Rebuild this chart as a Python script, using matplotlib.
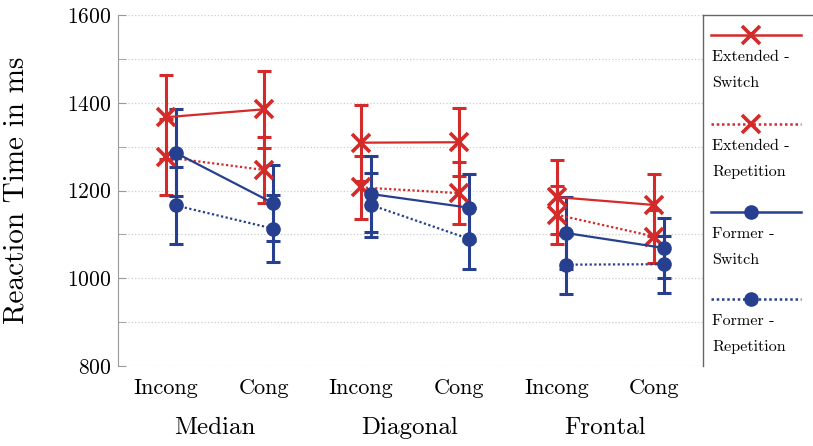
import matplotlib
matplotlib.use("Agg")
import matplotlib.pyplot as plt
import numpy as np

plt.rcParams['font.family'] = ['cmr10', 'DejaVu Serif']
plt.rcParams['axes.formatter.use_mathtext'] = True
plt.rcParams['mathtext.fontset'] = 'cm'

groups = ["Median", "Diagonal", "Frontal"]
conditions = ["Incong", "Cong"]

ext_switch = [1367, 1385, 1309, 1310, 1185, 1167]
ext_switch_err = [96, 88, 87, 77, 84, 70]
ext_rep = [1276, 1247, 1207, 1194, 1145, 1095]
ext_rep_err = [86, 76, 71, 70, 66, 60]
for_switch = [1286, 1171, 1192, 1161, 1103, 1069]
for_switch_err = [99, 87, 87, 76, 82, 69]
for_rep = [1166, 1113, 1167, 1090, 1031, 1032]
for_rep_err = [88, 77, 73, 69, 67, 65]

legend_labels = ["Extended -\nSwitch", "Extended -\nRepetition",
                 "Former -\nSwitch", "Former -\nRepetition"]

RED = '#d42a2a'
BLUE = '#263f8e'
DOT = (0, (1, 1.1))

W, H = 813, 446
fig = plt.figure(figsize=(W / 100, H / 100), dpi=100)
left, right, top, bottom = 118, 703, 15, 366
ax = fig.add_axes([left / W, 1 - bottom / H, (right - left) / W, (bottom - top) / H])

series = [
    (ext_switch, ext_switch_err, RED, '-', 'x', 0.0),
    (ext_rep, ext_rep_err, RED, DOT, 'x', 0.0),
    (for_switch, for_switch_err, BLUE, '-', 'o', 0.1),
    (for_rep, for_rep_err, BLUE, DOT, 'o', 0.1),
]

for vals, errs, col, ls, mk, off in series:
    vals = np.array(vals); errs = np.array(errs)
    x = np.arange(len(vals)) + off
    ax.errorbar(x, vals, yerr=errs, fmt='none', ecolor=col, elinewidth=2.2,
                capsize=5, capthick=2.2, zorder=2)
    for g in range(len(groups)):
        sl = slice(2 * g, 2 * g + 2)
        if mk == 'x':
            ax.plot(x[sl], vals[sl], color=col, linestyle=ls, lw=1.6,
                    marker='x', ms=13, mew=2.6, zorder=3)
        else:
            ax.plot(x[sl], vals[sl], color=col, linestyle=ls, lw=1.6,
                    marker='o', ms=9.5, zorder=4)

ax.set_xlim(-0.49, 5.5)
ax.set_ylim(800, 1600)
ax.set_yticks(np.arange(800, 1601, 200))
ax.set_yticks(np.arange(800, 1601, 100), minor=True)
ax.tick_params(axis='y', which='both', direction='in', length=6, color='#999999',
               labelsize=15.5, pad=5)
ax.yaxis.grid(True, which='both', linestyle=':', color='#cccccc', lw=0.9)
ax.set_axisbelow(True)
ax.set_xticks(np.arange(6))
ax.set_xticklabels(conditions * len(groups), fontsize=16)
ax.tick_params(axis='x', length=0, pad=9)
for s in ['top', 'right', 'bottom']:
    ax.spines[s].set_visible(False)
ax.spines['left'].set_color('#999999')

fig.text(16 / W, 1 - 190 / H, "Reaction Time in ms", rotation=90,
         ha='center', va='center', fontsize=21)

for g, name in enumerate(groups):
    ax.text(2 * g + 0.5, -(428 - bottom) / (bottom - top), name,
            transform=ax.get_xaxis_transform(),
            ha='center', va='center', fontsize=18)

# legend panel
lax = fig.add_axes([right / W, 1 - bottom / H, (W - right) / W + 0.01, (bottom - top) / H])
lax.set_xlim(right, W + 8)
lax.set_ylim(bottom, top)
lax.set_xticks([]); lax.set_yticks([])
for s in ['right', 'bottom']:
    lax.spines[s].set_visible(False)
for s in ['left', 'top']:
    lax.spines[s].set_color('#666666')
    lax.spines[s].set_linewidth(1.0)

ys = [35, 124, 212, 299]
styles = [(RED, '-', 'x'), (RED, DOT, 'x'), (BLUE, '-', 'o'), (BLUE, DOT, 'o')]
for y0, (col, ls, mk), lab in zip(ys, styles, legend_labels):
    lax.plot([711, 801], [y0, y0], color=col, linestyle=ls, lw=1.8)
    if mk == 'x':
        lax.plot([751], [y0], marker='x', ms=13, mew=2.6, color=col)
    else:
        lax.plot([751], [y0], marker='o', ms=9.5, color=col)
    l1, l2 = lab.split("\n")
    lax.text(712, y0 + 22, l1, fontsize=11.6, va='center', ha='left')
    lax.text(712, y0 + 48, l2, fontsize=11.6, va='center', ha='left')

fig.savefig("out.png", dpi=100)
